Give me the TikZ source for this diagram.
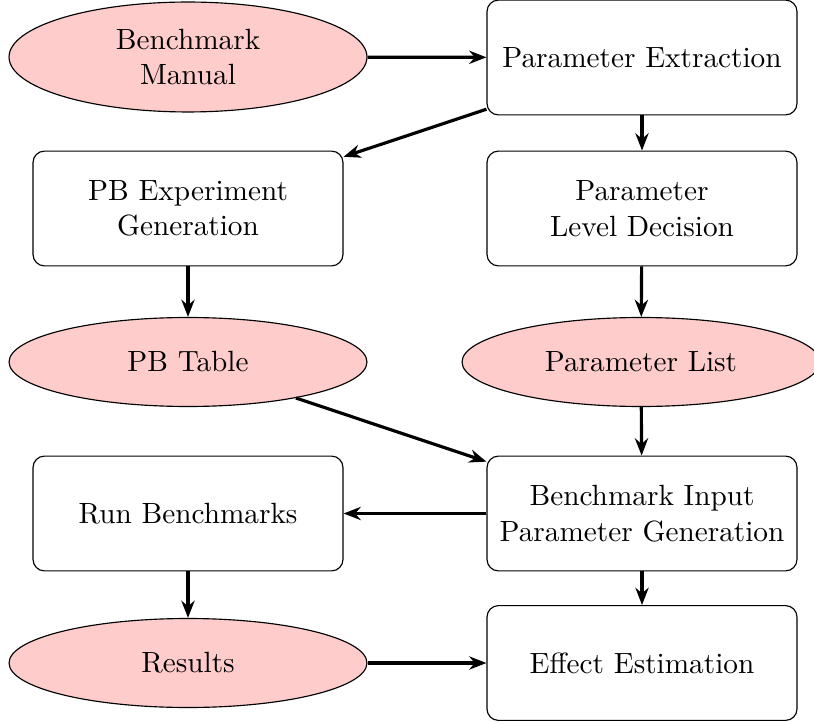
\documentclass[tikz,border=0pt]{standalone}
\usetikzlibrary{shapes.geometric,arrows.meta}
\begin{document}
\begin{tikzpicture}[x=0.3484pt,y=-0.3484pt,
  every node/.style={font=\fontsize{10.2}{12.4}\selectfont},
  procbox/.style={draw,rounded corners=4pt,minimum width=108pt,minimum height=40pt,align=center,inner sep=0pt},
  databox/.style={ellipse,draw,fill=red!20,minimum width=124.7pt,minimum height=31pt,align=center,inner sep=0pt},
  flow/.style={-{Stealth[length=6pt,width=4.6pt]},line width=1.1pt}]
  \useasboundingbox (0,0) rectangle (814,724);

  % left column
  \node[databox,minimum height=38.3pt] (man) at (188,57) {Benchmark\\Manual};
  \node[procbox] (pbg) at (188,208.5) {PB Experiment\\Generation};
  \node[databox] (pbt) at (188,362) {PB Table};
  \node[procbox] (rb)  at (188,513.5) {Run Benchmarks};
  \node[databox] (res) at (188,663) {Results};

  % right column
  \node[procbox] (pe)  at (642,57.5) {Parameter Extraction};
  \node[procbox] (pld) at (642,208.5) {Parameter\\Level Decision};
  \node[databox] (pl)  at (641,362) {Parameter List};
  \node[procbox] (bip) at (642,513.5) {Benchmark Input\\Parameter Generation};
  \node[procbox] (ee)  at (642,663) {Effect Estimation};

  % connectors
  \draw[flow] (man) -- (pe);
  \draw[flow] (pe) -- (pbg);
  \draw[flow] (pe) -- (pld);
  \draw[flow] (pbg) -- (pbt);
  \draw[flow] (pld) -- (pl);
  \draw[flow] (pbt) -- (bip);
  \draw[flow] (pl) -- (bip);
  \draw[flow] (bip) -- (rb);
  \draw[flow] (rb) -- (res);
  \draw[flow] (bip) -- (ee);
  \draw[flow] (res) -- (ee);
\end{tikzpicture}
\end{document}
